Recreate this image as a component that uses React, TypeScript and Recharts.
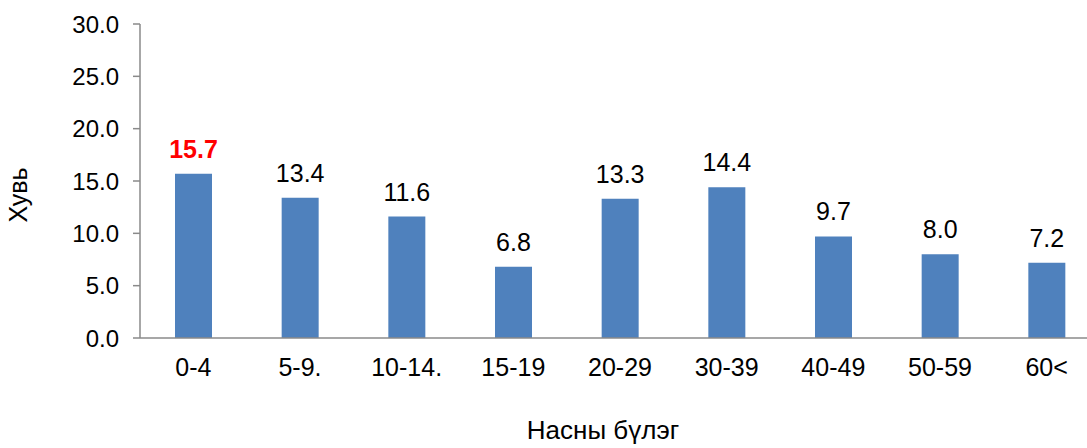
import { BarChart, Bar, XAxis, YAxis, LabelList, Label } from "recharts";

const ageGroups = ["0-4", "5-9.", "10-14.", "15-19", "20-29", "30-39", "40-49", "50-59", "60<"];
const shares = [15.7, 13.4, 11.6, 6.8, 13.3, 14.4, 9.7, 8.0, 7.2];
const yTicks = [0, 5, 10, 15, 20, 25, 30];

const data = ageGroups.map((group, i) => ({ group, value: shares[i] }));

const font = "Arial, 'Liberation Sans', sans-serif";

function ValueLabel(props: any) {
  const { x, y, width, value, index } = props;
  const first = index === 0;
  return (
    <text
      x={x + width / 2}
      y={y - 16}
      textAnchor="middle"
      fontSize={25}
      fontFamily={font}
      fontWeight={first ? "bold" : "normal"}
      fill={first ? "#ff0000" : "#000000"}
    >
      {Number(value).toFixed(1)}
    </text>
  );
}

export default function App() {
  return (
    <div
      style={{
        position: "fixed",
        left: 0,
        top: 0,
        width: 1087,
        height: 448,
        overflow: "hidden",
        background: "#ffffff",
      }}
    >
      <BarChart
        width={1100}
        height={448}
        data={data}
        margin={{ top: 24, right: 0, left: 0, bottom: 70 }}
      >
        <XAxis
          dataKey="group"
          height={40}
          tickSize={0}
          tickMargin={20}
          axisLine={{ stroke: "#8a8a8a", strokeWidth: 1.5 }}
          tick={{ fontSize: 25, fill: "#000000", fontFamily: font }}
          interval={0}
        >
          <Label
            content={() => (
              <text
                x={603}
                y={439}
                textAnchor="middle"
                fontSize={26}
                fontFamily={font}
                fill="#000000"
              >
                Насны бүлэг
              </text>
            )}
          />
        </XAxis>
        <YAxis
          width={140}
          domain={[0, 30]}
          ticks={yTicks}
          interval={0}
          tickSize={7}
          tickMargin={14}
          tickFormatter={(v: number) => v.toFixed(1)}
          axisLine={{ stroke: "#8a8a8a", strokeWidth: 1.5 }}
          tickLine={{ stroke: "#8a8a8a", strokeWidth: 1.5 }}
          tick={{ fontSize: 24, fill: "#000000", fontFamily: font }}
        >
          <Label
            content={() => (
              <text
                x={0}
                y={0}
                transform="translate(27, 195) rotate(-90)"
                textAnchor="middle"
                fontSize={25}
                fontFamily={font}
                fill="#000000"
              >
                Хувь
              </text>
            )}
          />
        </YAxis>
        <Bar dataKey="value" fill="#4f81bd" barSize={37} isAnimationActive={false}>
          <LabelList dataKey="value" content={ValueLabel} />
        </Bar>
      </BarChart>
    </div>
  );
}
